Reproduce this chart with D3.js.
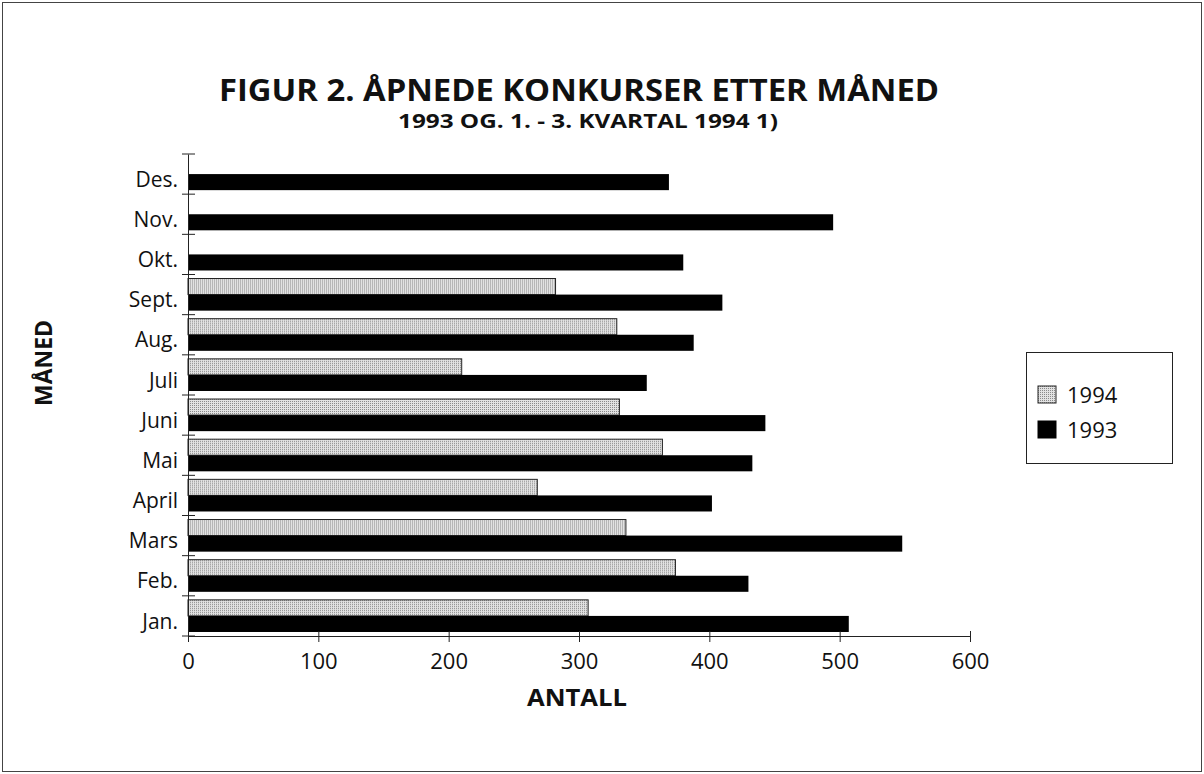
<!DOCTYPE html>
<html>
<head>
<meta charset="utf-8">
<script src="https://d3js.org/d3.v7.min.js"></script>
<style>
  body { margin: 0; background: #fff; }
  text { font-family: "Open Sans", "DejaVu Sans", sans-serif; fill: #111; }
  .bold { font-weight: bold; }
</style>
</head>
<body>
<div id="chart"></div>
<script>
// data
const months = ["Jan.", "Feb.", "Mars", "April", "Mai", "Juni", "Juli", "Aug.", "Sept.", "Okt.", "Nov.", "Des."];
const v1993 = [507, 430, 548, 402, 433, 443, 352, 388, 410, 380, 495, 369];
const v1994 = [307, 374, 336, 268, 364, 331, 210, 329, 282, null, null, null];
const series = ["1994", "1993"];
const xTicks = [0, 100, 200, 300, 400, 500, 600];

const width = 1204, height = 774;

const svg = d3.select("#chart").append("svg")
  .attr("width", width)
  .attr("height", height);

// dotted fill for 1994
const defs = svg.append("defs");
const pat = defs.append("pattern")
  .attr("id", "dots")
  .attr("patternUnits", "userSpaceOnUse")
  .attr("width", 2).attr("height", 2);
pat.append("rect").attr("width", 2).attr("height", 2).attr("fill", "#e2e2e2");
pat.append("rect").attr("width", 1).attr("height", 1).attr("fill", "#8a8a8a");

// frame round the whole figure
svg.append("rect")
  .attr("x", 2.5).attr("y", 2.5)
  .attr("width", width - 5).attr("height", height - 5)
  .attr("fill", "none").attr("stroke", "#444");

const x = d3.scaleLinear().domain([0, 600]).range([188, 970]);
const y = d3.scaleBand().domain(months.slice().reverse()).range([154, 636]);
const ySub = d3.scaleBand().domain(series).range([0, y.bandwidth()]).paddingOuter(0.25);

const rows = months.map((m, i) => ({ month: m, "1993": v1993[i], "1994": v1994[i] }));

const fills = { "1994": "url(#dots)", "1993": "#000" };

// bars
const rowG = svg.append("g").selectAll("g")
  .data(rows)
  .join("g")
  .attr("transform", d => `translate(0,${y(d.month)})`);

rowG.selectAll("rect")
  .data(d => series.filter(s => d[s] != null).map(s => ({ key: s, value: d[s] })))
  .join("rect")
  .attr("x", x(0))
  .attr("y", d => ySub(d.key))
  .attr("width", d => x(d.value) - x(0))
  .attr("height", ySub.bandwidth())
  .attr("fill", d => fills[d.key])
  .attr("stroke", d => d.key === "1994" ? "#222" : "none")
  .attr("stroke-width", 1);

// x axis
const xAxis = svg.append("g")
  .attr("transform", `translate(0,${y.range()[1]})`)
  .call(d3.axisBottom(x).tickValues(xTicks).tickSizeOuter(0));
xAxis.select(".domain").attr("stroke", "#222");
xAxis.selectAll(".tick line").attr("y1", -5).attr("y2", 6).attr("stroke", "#222");
xAxis.selectAll(".tick text")
  .attr("y", 17)
  .attr("dy", "0.71em")
  .attr("font-size", 22)
  .attr("font-family", "Open Sans, sans-serif")
  .attr("fill", "#111");

// y axis: line, ticks on band boundaries, labels centred on bands
const yAxis = svg.append("g")
  .attr("transform", `translate(${x(0)},0)`)
  .call(d3.axisLeft(y).tickSize(0).tickPadding(10));
yAxis.select(".domain").attr("stroke", "#222");
yAxis.selectAll(".tick text")
  .attr("dy", "0.6em")
  .attr("font-size", 21)
  .attr("font-family", "Open Sans, sans-serif")
  .attr("fill", "#111");

const bounds = [y.range()[0]].concat(months.map(m => y(m) + y.bandwidth()));
yAxis.selectAll(".bound")
  .data(bounds)
  .join("line")
  .attr("class", "bound")
  .attr("x1", -6).attr("x2", 7)
  .attr("y1", d => d).attr("y2", d => d)
  .attr("stroke", "#222");

// titles
svg.append("text")
  .attr("class", "bold")
  .attr("x", 579).attr("y", 101)
  .attr("text-anchor", "middle")
  .attr("font-size", 31)
  .attr("textLength", 720)
  .attr("lengthAdjust", "spacingAndGlyphs")
  .text("FIGUR 2. ÅPNEDE KONKURSER ETTER MÅNED");

svg.append("text")
  .attr("class", "bold")
  .attr("x", 588).attr("y", 128)
  .attr("text-anchor", "middle")
  .attr("font-size", 19)
  .attr("textLength", 380)
  .attr("lengthAdjust", "spacingAndGlyphs")
  .text("1993 OG. 1. - 3. KVARTAL 1994 1)");

svg.append("text")
  .attr("class", "bold")
  .attr("x", 577).attr("y", 706)
  .attr("text-anchor", "middle")
  .attr("font-size", 24)
  .attr("textLength", 100)
  .attr("lengthAdjust", "spacingAndGlyphs")
  .text("ANTALL");

svg.append("text")
  .attr("class", "bold")
  .attr("transform", "translate(52,363) rotate(-90)")
  .attr("text-anchor", "middle")
  .attr("font-size", 24)
  .attr("textLength", 86)
  .attr("lengthAdjust", "spacingAndGlyphs")
  .text("MÅNED");

// legend
const lg = svg.append("g").attr("transform", "translate(1026,352)");
lg.append("rect")
  .attr("x", 0.5).attr("y", 0.5)
  .attr("width", 146).attr("height", 111)
  .attr("fill", "#fff").attr("stroke", "#222");

const legItems = lg.selectAll(".item")
  .data(series)
  .join("g")
  .attr("class", "item")
  .attr("transform", (d, i) => `translate(12,${34 + i * 35})`);
legItems.append("rect")
  .attr("width", 18).attr("height", 17)
  .attr("fill", d => fills[d])
  .attr("stroke", d => d === "1994" ? "#222" : "#000");
legItems.append("text")
  .attr("x", 29).attr("y", 9)
  .attr("dy", "0.35em")
  .attr("font-size", 22)
  .text(d => d);
</script>
</body>
</html>
